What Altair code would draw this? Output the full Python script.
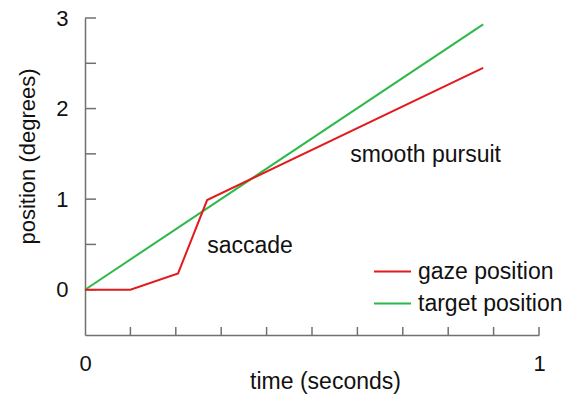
import altair as alt
import pandas as pd

# ---- data ----
gaze_t = [0.0, 0.1, 0.205, 0.269, 0.877]
gaze_y = [0.0, 0.0, 0.18, 0.99, 2.45]
target_t = [0.0, 0.877]
target_y = [0.0, 2.93]
series_names = ["gaze position", "target position"]
series_colors = ["#e31a1c", "#2db84a"]

y_tick_vals = [0, 0.5, 1, 1.5, 2, 2.5, 3]
x_tick_vals = [0.1, 0.2, 0.3, 0.4, 0.5, 0.6, 0.7, 0.8, 0.9, 1.0]
y_label_vals = [0, 1, 2, 3]
x_label_vals = [0, 1]

note_text = ["saccade", "smooth pursuit"]
note_t = [0.269, 0.584]
note_y = [0.41, 1.41]

FONT = "Liberation Sans"
AXIS_GRAY = "#707070"

gaze_df = pd.DataFrame({"t": gaze_t, "y": gaze_y, "series": series_names[0]})
target_df = pd.DataFrame({"t": target_t, "y": target_y, "series": series_names[1]})
ytick_df = pd.DataFrame({"v": y_tick_vals})
xtick_df = pd.DataFrame({"v": x_tick_vals})
note_df = pd.DataFrame({"t": note_t, "y": note_y, "label": note_text})

x_scale = alt.Scale(domain=[0, 1], nice=False, zero=False)
y_scale = alt.Scale(domain=[-0.5, 3], nice=False, zero=False)
color_scale = alt.Scale(domain=series_names, range=series_colors)

x_axis = alt.Axis(
    values=x_label_vals, format="d", grid=False, ticks=False, tickSize=0,
    labelFontSize=22, labelPadding=18, labelFont=FONT, labelColor="#111",
    labelFlush=False,
    domainColor=AXIS_GRAY, domainWidth=1.5,
    title="time (seconds)", titleFont=FONT, titleFontSize=23, titleFontWeight="normal",
    titleColor="#111", titleX=240, titleY=53, titleAlign="center", titleBaseline="alphabetic",
)
y_axis = alt.Axis(
    values=y_label_vals, format="d", grid=False, ticks=False, tickSize=0,
    labelFontSize=22, labelPadding=17, labelFont=FONT, labelColor="#111",
    labelBaseline="middle", labelFlush=False,
    domainColor=AXIS_GRAY, domainWidth=1.5,
    title="position (degrees)", titleFont=FONT, titleFontSize=22, titleFontWeight="normal",
    titleColor="#111", titleAngle=270, titleX=-58, titleY=138,
    titleAlign="center", titleBaseline="middle",
)

legend = alt.Legend(
    title=None, orient="none", legendX=288, legendY=234, padding=0,
    symbolType="stroke", symbolSize=1369, symbolStrokeWidth=2,
    labelFont=FONT, labelFontSize=23, labelColor="#111", labelOffset=6,
    rowPadding=-4,
)

base_x = alt.X("t:Q", scale=x_scale, axis=x_axis)
base_y = alt.Y("y:Q", scale=y_scale, axis=y_axis)

target_line = alt.Chart(target_df).mark_line(strokeWidth=2).encode(
    x=base_x, y=base_y,
    color=alt.Color("series:N", scale=color_scale, legend=legend),
)
gaze_line = alt.Chart(gaze_df).mark_line(strokeWidth=2).encode(
    x=alt.X("t:Q", scale=x_scale),
    y=alt.Y("y:Q", scale=y_scale),
    color=alt.Color("series:N", scale=color_scale, legend=legend),
)

ytick_layer = alt.Chart(ytick_df).mark_rule(color=AXIS_GRAY, strokeWidth=1.5).encode(
    y=alt.Y("v:Q", scale=y_scale),
    x=alt.value(0), x2=alt.value(11),
)
xtick_layer = alt.Chart(xtick_df).mark_rule(color=AXIS_GRAY, strokeWidth=1.5).encode(
    x=alt.X("v:Q", scale=x_scale),
    y=alt.value(317), y2=alt.value(309),
)

notes = alt.Chart(note_df).mark_text(
    align="left", baseline="alphabetic", font=FONT, fontSize=23, color="#111"
).encode(
    x=alt.X("t:Q", scale=x_scale),
    y=alt.Y("y:Q", scale=y_scale),
    text="label:N",
)

chart = alt.layer(
    ytick_layer, xtick_layer, target_line, gaze_line, notes
).properties(
    width=454, height=317,
    autosize=alt.AutoSizeParams(type="none"),
    padding={"left": 85, "top": 18, "right": 29, "bottom": 59},
    background="white",
).configure_view(stroke=None)

chart.save("out.html", embed_options={"renderer": "svg", "actions": False})
